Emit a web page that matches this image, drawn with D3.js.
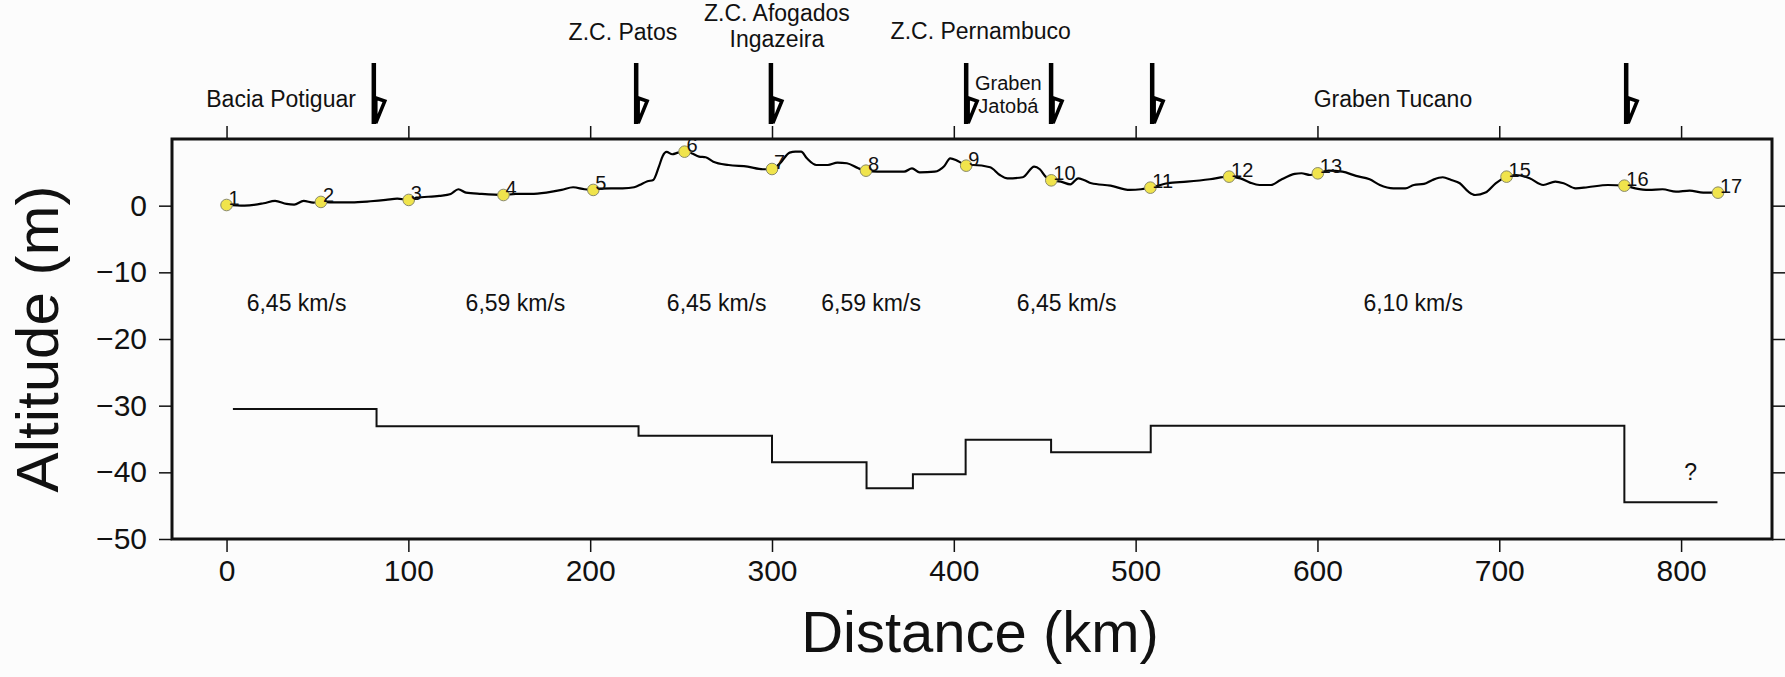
<!DOCTYPE html>
<html>
<head>
<meta charset="utf-8">
<script src="https://d3js.org/d3.v7.min.js"></script>
<style>
  html, body { margin: 0; padding: 0; background: #fcfcfc; }
  svg text { font-family: "Liberation Sans", Arial, Helvetica, sans-serif; fill: #111; }
</style>
</head>
<body>
<div id="viz"></div>
<script>
/* Topographic profile + Moho depth, drawn with D3 */

// topography along the profile (km, m)
var topoKm = [0, 9.9, 20.4, 26.7, 33.0, 37.2, 42.4, 47.7, 51.9, 58.2, 68.7, 79.2, 87.6, 93.9, 100.2, 104.4, 117.0, 123.3, 127.5, 131.7,
  140.1, 152.3, 159.0, 167.4, 175.9, 184.3, 190.6, 196.9, 201.7, 205.2, 217.8, 224.2, 228.4, 231.5, 234.7, 237.8, 239.9, 242.0, 245.2, 248.3,
  251.9, 255.7, 259.9, 263.5, 267.7, 276.1, 286.6, 295.0, 300.0, 304.5, 309.7, 312.9, 316.0, 319.2, 324.4, 330.7, 336.0, 341.2, 347.5, 351.7,
  358.0, 372.7, 377.0, 381.2, 389.5, 394.8, 398.0, 401.1, 404.3, 406.8, 410.6, 420.0, 425.3, 429.5, 437.9, 444.2, 447.3, 450.5, 453.6, 458.9,
  464.1, 468.4, 471.5, 475.7, 486.2, 496.7, 503.0, 508.1, 517.7, 528.2, 540.8, 551.3, 557.6, 562.9, 568.1, 574.4, 579.7, 587.5, 591.2, 595.9,
  600.2, 606.2, 613.7, 621.2, 628.7, 634.3, 641.8, 648.3, 653.0, 658.6, 663.3, 668.9, 673.6, 678.3, 683.0, 686.7, 692.4, 698.0, 704.0, 709.2,
  716.7, 724.2, 730.8, 735.4, 742.0, 748.5, 759.8, 768.8, 774.8, 782.3, 789.8, 797.2, 804.7, 812.2, 820.3];
var topoAlt = [0.1, 0.0, 0.36, 0.71, 0.26, 0.16, 0.71, 0.46, 0.56, 0.5, 0.5, 0.66, 0.86, 1.06, 0.86, 1.2, 1.46, 1.76, 2.46, 1.96,
  1.76, 1.6, 1.76, 1.76, 1.96, 2.36, 2.76, 2.46, 2.36, 2.56, 2.6, 2.76, 3.26, 3.66, 3.86, 5.86, 7.46, 8.06, 7.71, 7.96,
  8.1, 7.86, 7.36, 7.26, 6.6, 6.1, 5.86, 5.46, 5.5, 6.36, 7.96, 8.1, 8.1, 7.1, 6.1, 6.1, 6.46, 6.36, 5.6, 5.25,
  5.1, 5.1, 5.6, 5.0, 5.1, 5.96, 7.1, 6.86, 6.36, 6.0, 6.1, 5.76, 4.6, 4.1, 4.26, 5.86, 5.46, 4.36, 3.8, 3.6,
  3.2, 4.1, 3.86, 3.36, 3.0, 2.36, 2.46, 2.7, 3.36, 3.6, 3.96, 4.36, 4.1, 3.46, 3.1, 3.1, 3.86, 4.76, 4.86, 4.6,
  4.86, 5.26, 5.1, 4.46, 3.96, 3.1, 2.6, 2.6, 3.1, 3.26, 3.86, 4.26, 3.86, 3.36, 2.1, 1.6, 1.96, 3.36, 4.35, 4.6,
  4.1, 3.1, 3.6, 3.36, 2.6, 2.76, 3.1, 3.0, 2.6, 2.36, 2.46, 2.1, 2.26, 1.96, 1.95];

// stations
var stLabels = ['1', '2', '3', '4', '5', '6', '7', '8', '9', '10', '11', '12', '13', '15', '16', '17'];
var stKm = [0, 51.9, 100.2, 152.3, 201.7, 251.9, 300.0, 351.7, 406.8, 453.6, 508.1, 551.4, 600.2, 704.0, 768.8, 820.3];
var stAlt = [0.1, 0.56, 0.86, 1.6, 2.36, 8.1, 5.5, 5.25, 6.0, 3.8, 2.7, 4.35, 4.85, 4.35, 3.0, 1.95];

// moho (step line), last value repeats to close the last step
var mohoKm = [3.5, 82.5, 226.6, 300, 352, 377.5, 406.5, 453.5, 508.3, 768.8, 820];
var mohoAlt = [-30.5, -33.1, -34.5, -38.5, -42.4, -40.3, -35.1, -37.0, -33.0, -44.5, -44.5];

// velocity labels
var velText = ['6,45 km/s', '6,59 km/s', '6,45 km/s', '6,59 km/s', '6,45 km/s', '6,10 km/s'];
var velKm = [38.5, 158.9, 269.6, 354.5, 462.1, 652.7];
var velAlt = -15.8;

// faults (arrows on top)
var faultKm = [81, 225.3, 299.4, 406.8, 453.5, 509.1, 769.8];

// region names over the plot
var regionText = ['Bacia Potiguar', 'Z.C. Patos', 'Z.C. Afogados', 'Ingazeira', 'Z.C. Pernambuco', 'Graben', 'Jatobá', 'Graben Tucano'];
var regionKm = [30, 218, 302.7, 302.7, 414.8, 430, 430, 641.5];
var regionY = [107, 40, 21, 46.5, 38.5, 90, 113, 107];
var regionSize = [23, 23, 23, 23, 23, 20, 20, 23];

var xTicks = [0, 100, 200, 300, 400, 500, 600, 700, 800];
var yTicks = [-50, -40, -30, -20, -10, 0];

var margin = { top: 139, left: 172 },
    width = 1600,
    height = 400;

var svg = d3.select('#viz').append('svg')
    .attr('width', 1785)
    .attr('height', 677);

svg.append('rect')
    .attr('width', 1785).attr('height', 677)
    .attr('fill', '#fcfcfc');

var xScale = d3.scaleLinear().domain([-30, 850]).range([0, width]);
var yScale = d3.scaleLinear().domain([-50, 10]).range([height, 0]);

var g = svg.append('g')
    .attr('transform', 'translate(' + margin.left + ',' + margin.top + ')');

// axes
var xBottom = d3.axisBottom(xScale).tickValues(xTicks).tickSize(13).tickPadding(8).tickFormat(d3.format('d'));
var xTop = d3.axisTop(xScale).tickValues(xTicks).tickSize(13).tickFormat('');
var yLeft = d3.axisLeft(yScale).tickValues(yTicks).tickSize(13).tickPadding(12);
var yRight = d3.axisRight(yScale).tickValues(yTicks).tickSize(13).tickFormat('');

function styleAxis(sel) {
  sel.select('.domain').remove();
  sel.selectAll('.tick line').attr('stroke', '#111').attr('stroke-width', 1.5);
  sel.selectAll('.tick text').attr('font-size', 30).attr('fill', '#111')
    .style('font-family', '"Liberation Sans", Arial, sans-serif');
}

g.append('g').attr('transform', 'translate(0,' + height + ')').call(xBottom).call(styleAxis);
g.append('g').call(xTop).call(styleAxis);
g.append('g').call(yLeft).call(styleAxis);
g.append('g').attr('transform', 'translate(' + width + ',0)').call(yRight).call(styleAxis);

// frame
g.append('rect')
    .attr('width', width).attr('height', height)
    .attr('fill', 'none')
    .attr('stroke', '#111')
    .attr('stroke-width', 3);

// moho step line
var moho = mohoKm.map(function(d, i) { return [d, mohoAlt[i]]; });
g.append('path')
    .datum(moho)
    .attr('fill', 'none')
    .attr('stroke', '#111')
    .attr('stroke-width', 2)
    .attr('d', d3.line()
      .x(function(d) { return xScale(d[0]); })
      .y(function(d) { return yScale(d[1]); })
      .curve(d3.curveStepAfter));

// topography
var topo = topoKm.map(function(d, i) { return [d, topoAlt[i]]; });
g.append('path')
    .datum(topo)
    .attr('fill', 'none')
    .attr('stroke', '#000')
    .attr('stroke-width', 2.2)
    .attr('d', d3.line()
      .x(function(d) { return xScale(d[0]); })
      .y(function(d) { return yScale(d[1]); })
      .curve(d3.curveMonotoneX));

// stations
var st = g.selectAll('.st').data(stKm).enter().append('g')
    .attr('class', 'st')
    .attr('transform', function(d, i) {
      return 'translate(' + xScale(d) + ',' + yScale(stAlt[i]) + ')';
    });
st.append('circle')
    .attr('r', 5.8)
    .attr('fill', '#f0e44c')
    .attr('stroke', '#8a8a6a')
    .attr('stroke-width', 1);
st.append('text')
    .attr('x', 2)
    .attr('y', 0)
    .attr('font-size', 20)
    .attr('fill', '#222')
    .text(function(d, i) { return stLabels[i]; });

// velocities
g.selectAll('.vel').data(velText).enter().append('text')
    .attr('class', 'vel')
    .attr('x', function(d, i) { return xScale(velKm[i]); })
    .attr('y', yScale(velAlt))
    .attr('text-anchor', 'middle')
    .attr('font-size', 23)
    .text(function(d) { return d; });

g.append('text')
    .attr('x', xScale(805.3))
    .attr('y', yScale(-41.1))
    .attr('text-anchor', 'middle')
    .attr('font-size', 23)
    .text('?');

// fault arrows
var fault = svg.selectAll('.fault').data(faultKm).enter().append('g')
    .attr('class', 'fault')
    .attr('transform', function(d) { return 'translate(' + (margin.left + xScale(d)) + ',0)'; });
fault.append('line')
    .attr('x1', 0).attr('x2', 0)
    .attr('y1', 63).attr('y2', 124)
    .attr('stroke', '#000')
    .attr('stroke-width', 4.5);
fault.append('path')
    .attr('d', 'M2,98 L11,101 L2,123 Z')
    .attr('fill', '#fff')
    .attr('stroke', '#000')
    .attr('stroke-width', 3.5)
    .attr('stroke-linejoin', 'miter');

// region names
svg.selectAll('.region').data(regionText).enter().append('text')
    .attr('class', 'region')
    .attr('x', function(d, i) { return margin.left + xScale(regionKm[i]); })
    .attr('y', function(d, i) { return regionY[i]; })
    .attr('text-anchor', 'middle')
    .attr('font-size', function(d, i) { return regionSize[i]; })
    .text(function(d) { return d; });

// axis titles
svg.append('text')
    .attr('x', 980)
    .attr('y', 652)
    .attr('text-anchor', 'middle')
    .attr('font-size', 58)
    .text('Distance (km)');

svg.append('text')
    .attr('transform', 'translate(58,' + (margin.top + height / 2) + ') rotate(-90)')
    .attr('text-anchor', 'middle')
    .attr('font-size', 60)
    .text('Altitude (m)');
</script>
</body>
</html>
